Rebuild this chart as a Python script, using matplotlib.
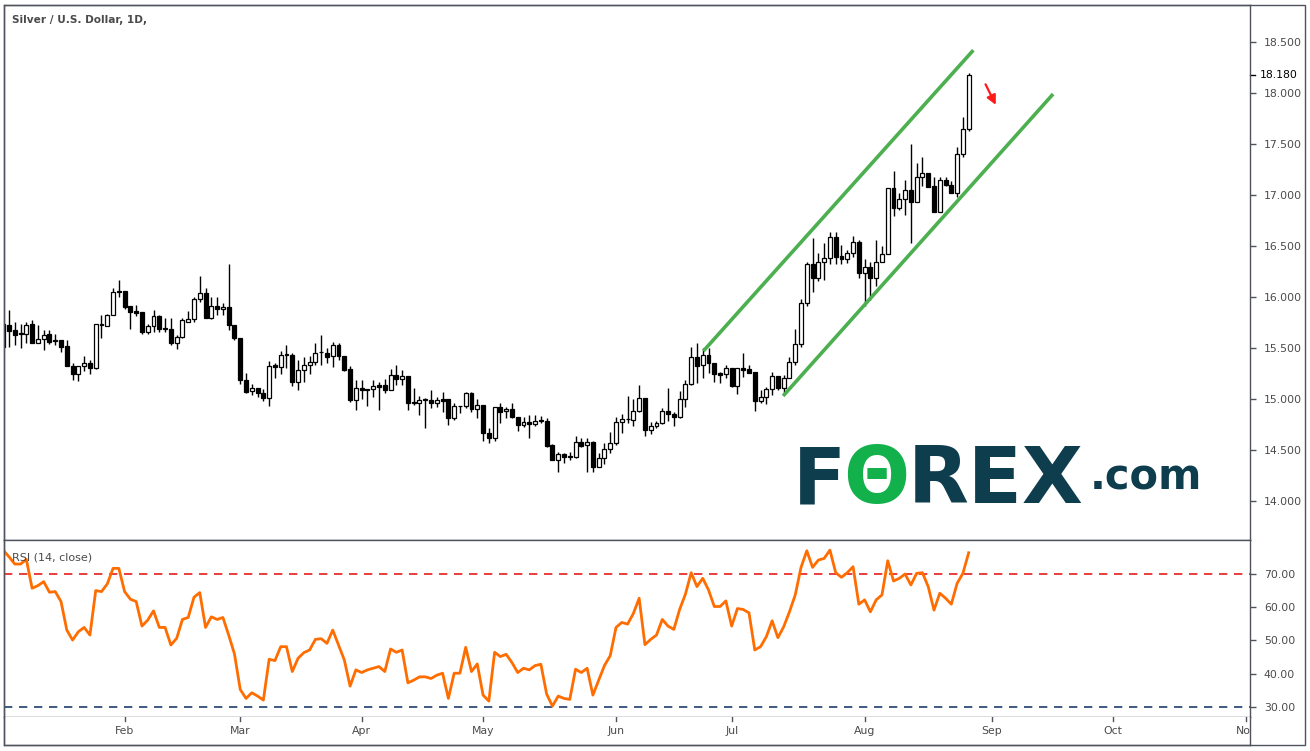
import numpy as np
import pandas as pd
import matplotlib
matplotlib.use("Agg")
import matplotlib.pyplot as plt
from matplotlib.patches import Rectangle
from matplotlib.lines import Line2D

# daily OHLC, XAG/USD, 3 Jan 2019 .. 27 Aug 2019
opens = [15.51, 15.73, 15.68, 15.64, 15.64, 15.74, 15.55, 15.59, 15.64, 15.58,
         15.58, 15.52, 15.32, 15.25, 15.32, 15.35, 15.30, 15.74, 15.72, 15.82,
         16.06, 16.06, 15.91, 15.86, 15.85, 15.66, 15.72, 15.81, 15.70, 15.69,
         15.55, 15.61, 15.76, 15.78, 15.98, 16.04, 15.79, 15.91, 15.88, 15.90,
         15.73, 15.60, 15.19, 15.08, 15.11, 15.06, 15.01, 15.33, 15.31, 15.43,
         15.43, 15.17, 15.28, 15.33, 15.36, 15.46, 15.45, 15.42, 15.53, 15.42,
         15.29, 14.99, 15.11, 15.10, 15.10, 15.135, 15.135, 15.09, 15.24, 15.20,
         15.23, 14.975, 14.965, 14.99, 14.99, 14.965, 15.00, 15.00, 14.817, 14.93,
         14.932, 15.063, 14.899, 14.942, 14.664, 14.615, 14.919, 14.88, 14.906, 14.827,
         14.742, 14.775, 14.752, 14.785, 14.785, 14.55, 14.40, 14.458, 14.442, 14.428,
         14.579, 14.546, 14.579, 14.337, 14.425, 14.507, 14.566, 14.772, 14.80, 14.794,
         14.882, 15.006, 14.696, 14.732, 14.761, 14.885, 14.852, 14.82, 14.996, 15.143,
         15.408, 15.333, 15.431, 15.349, 15.251, 15.241, 15.30, 15.13, 15.30, 15.29,
         15.261, 14.983, 15.022, 15.098, 15.225, 15.104, 15.202, 15.359, 15.536, 15.945,
         16.321, 16.19, 16.347, 16.38, 16.585, 16.403, 16.37, 16.435, 16.543, 16.233,
         16.291, 16.183, 16.347, 16.419, 17.066, 16.876, 16.958, 17.05, 16.935, 17.18,
         17.213, 17.089, 16.837, 17.148, 17.095, 17.023, 17.399, 17.644]
highs = [15.76, 15.87, 15.76, 15.74, 15.76, 15.77, 15.73, 15.68, 15.68, 15.64,
         15.58, 15.58, 15.35, 15.32, 15.42, 15.38, 15.74, 15.82, 15.83, 16.09,
         16.17, 16.06, 15.91, 15.92, 15.85, 15.74, 15.87, 15.82, 15.79, 15.79,
         15.63, 15.79, 15.86, 16.00, 16.21, 16.09, 16.00, 16.00, 15.94, 16.32,
         15.73, 15.60, 15.26, 15.15, 15.11, 15.10, 15.37, 15.35, 15.47, 15.53,
         15.45, 15.38, 15.41, 15.42, 15.55, 15.63, 15.50, 15.56, 15.55, 15.42,
         15.32, 15.19, 15.19, 15.10, 15.19, 15.17, 15.20, 15.29, 15.33, 15.285,
         15.23, 15.105, 15.03, 15.01, 15.09, 15.017, 15.07, 15.00, 14.958, 14.93,
         15.072, 15.072, 14.997, 14.942, 14.713, 14.919, 14.965, 14.919, 14.965, 14.827,
         14.827, 14.843, 14.843, 14.834, 14.811, 14.559, 14.484, 14.468, 14.484, 14.638,
         14.615, 14.615, 14.592, 14.468, 14.572, 14.68, 14.82, 14.853, 15.03, 14.999,
         15.137, 15.006, 14.777, 14.787, 14.908, 15.104, 14.875, 15.081, 15.186, 15.506,
         15.545, 15.496, 15.496, 15.356, 15.267, 15.333, 15.30, 15.30, 15.447, 15.333,
         15.261, 15.088, 15.12, 15.267, 15.225, 15.235, 15.415, 15.683, 15.977, 16.347,
         16.576, 16.429, 16.533, 16.634, 16.634, 16.51, 16.461, 16.598, 16.559, 16.37,
         16.347, 16.559, 16.50, 17.066, 17.236, 17.017, 17.148, 17.50, 17.317, 17.376,
         17.213, 17.18, 17.18, 17.18, 17.141, 17.468, 17.762, 18.20]
lows = [15.15, 15.51, 15.53, 15.50, 15.55, 15.55, 15.55, 15.48, 15.54, 15.53,
        15.46, 15.32, 15.19, 15.18, 15.27, 15.25, 15.29, 15.60, 15.72, 15.82,
        16.00, 15.88, 15.69, 15.81, 15.64, 15.64, 15.66, 15.66, 15.66, 15.53,
        15.49, 15.60, 15.76, 15.76, 15.95, 15.79, 15.78, 15.82, 15.82, 15.68,
        15.58, 15.15, 15.06, 15.04, 15.02, 14.98, 14.93, 15.21, 15.25, 15.30,
        15.13, 15.09, 15.17, 15.25, 15.33, 15.33, 15.35, 15.31, 15.38, 15.27,
        14.97, 14.89, 15.00, 14.93, 15.02, 14.89, 15.06, 15.09, 15.14, 15.14,
        14.89, 14.94, 14.84, 14.72, 14.91, 14.919, 14.876, 14.745, 14.795, 14.86,
        14.909, 14.876, 14.811, 14.592, 14.566, 14.592, 14.762, 14.811, 14.811, 14.69,
        14.729, 14.615, 14.736, 14.762, 14.527, 14.40, 14.288, 14.376, 14.40, 14.419,
        14.533, 14.288, 14.288, 14.33, 14.363, 14.474, 14.55, 14.664, 14.762, 14.738,
        14.875, 14.637, 14.653, 14.718, 14.751, 14.784, 14.738, 14.81, 14.918, 15.137,
        15.16, 15.202, 15.258, 15.17, 15.153, 15.202, 15.114, 15.045, 15.218, 15.251,
        14.885, 14.964, 14.95, 15.039, 15.088, 15.049, 15.202, 15.33, 15.513, 15.916,
        16.053, 16.161, 16.167, 16.321, 16.324, 16.324, 16.331, 16.396, 16.183, 15.916,
        15.971, 16.112, 16.347, 16.419, 16.798, 16.853, 16.804, 16.527, 16.935, 17.089,
        17.082, 16.837, 16.837, 17.089, 17.023, 16.978, 17.376, 17.631]
closes = [15.74, 15.67, 15.63, 15.64, 15.73, 15.55, 15.59, 15.63, 15.56, 15.57,
          15.51, 15.32, 15.25, 15.32, 15.35, 15.30, 15.74, 15.73, 15.82, 16.05,
          16.05, 15.90, 15.85, 15.84, 15.66, 15.72, 15.81, 15.69, 15.69, 15.55,
          15.61, 15.77, 15.78, 15.98, 16.04, 15.79, 15.91, 15.88, 15.90, 15.73,
          15.60, 15.19, 15.07, 15.11, 15.06, 15.01, 15.32, 15.31, 15.43, 15.44,
          15.17, 15.28, 15.33, 15.36, 15.45, 15.46, 15.41, 15.53, 15.42, 15.28,
          14.99, 15.11, 15.09, 15.09, 15.13, 15.12, 15.09, 15.24, 15.20, 15.23,
          14.96, 14.96, 14.99, 14.99, 14.965, 14.99, 14.984, 14.817, 14.932, 14.93,
          15.063, 14.899, 14.942, 14.664, 14.615, 14.919, 14.876, 14.906, 14.82, 14.742,
          14.775, 14.752, 14.785, 14.785, 14.54, 14.40, 14.458, 14.435, 14.428, 14.576,
          14.54, 14.579, 14.337, 14.425, 14.514, 14.566, 14.775, 14.804, 14.80, 14.882,
          15.006, 14.696, 14.732, 14.761, 14.885, 14.852, 14.82, 14.996, 15.143, 15.408,
          15.326, 15.431, 15.349, 15.241, 15.235, 15.30, 15.13, 15.30, 15.284, 15.258,
          14.983, 15.016, 15.098, 15.225, 15.104, 15.202, 15.359, 15.536, 15.945, 16.321,
          16.19, 16.347, 16.38, 16.585, 16.396, 16.37, 16.435, 16.543, 16.233, 16.291,
          16.183, 16.347, 16.419, 17.066, 16.876, 16.958, 17.05, 16.935, 17.18, 17.213,
          17.082, 16.837, 17.148, 17.095, 17.023, 17.399, 17.644, 18.18]

rsi = [77.2, 75.2, 73.0, 73.0, 74.4, 65.7, 66.5, 67.7, 64.5, 64.7,
       61.7, 53.1, 50.1, 52.6, 53.9, 51.6, 65.0, 64.7, 67.0, 71.7,
       71.7, 64.7, 62.4, 61.7, 54.3, 56.1, 58.9, 53.9, 53.9, 48.6,
       50.6, 56.3, 56.9, 63.0, 64.4, 53.9, 57.1, 56.3, 56.9, 51.6,
       45.9, 35.2, 32.5, 34.2, 33.2, 32.0, 44.3, 43.9, 48.1, 48.1,
       40.6, 44.6, 46.3, 47.1, 50.3, 50.5, 49.1, 53.1, 48.6, 44.1,
       36.2, 41.1, 40.3, 41.1, 41.6, 42.1, 40.6, 47.4, 46.4, 47.1,
       37.2, 38.0, 39.0, 39.0, 38.5, 39.5, 40.1, 32.5, 40.1, 40.1,
       47.9, 40.6, 42.9, 33.5, 31.7, 46.4, 45.1, 45.8, 43.3, 40.3,
       41.6, 41.1, 42.4, 42.8, 33.8, 30.2, 33.2, 32.5, 32.2, 41.3,
       40.3, 41.6, 33.5, 38.0, 42.4, 45.4, 53.9, 55.4, 54.9, 58.1,
       62.7, 48.7, 50.3, 51.6, 56.3, 54.3, 53.3, 59.3, 63.9, 70.4,
       66.2, 68.7, 65.2, 60.2, 60.2, 61.9, 54.3, 59.6, 59.3, 58.3,
       47.1, 48.1, 51.1, 55.9, 50.8, 54.1, 58.6, 63.7, 72.0, 77.0,
       72.0, 74.2, 74.7, 77.2, 70.4, 69.0, 70.4, 72.2, 60.9, 62.2,
       58.6, 62.2, 63.7, 74.0, 67.9, 68.7, 70.0, 66.7, 70.2, 70.4,
       66.2, 59.1, 64.2, 62.7, 60.9, 67.2, 70.2, 76.4]

# trading days (19 Apr is not on the chart), incl. the empty future part
days = pd.bdate_range("2019-01-03", "2019-11-30")
days = days[days != pd.Timestamp("2019-04-19")]

# drawn channel and arrow, as (bar index, price)
upper_line = [(121.1, 15.47), (167.8, 18.42)]
lower_line = [(134.9, 15.03), (181.6, 17.99)]
arrow_from = (169.7, 18.11)
arrow_to = (171.9, 17.86)

price_ticks = [14.0, 14.5, 15.0, 15.5, 16.0, 16.5, 17.0, 17.5, 18.0, 18.5]
rsi_ticks = [30, 40, 50, 60, 70]

W, H = 1310, 751
FRAME = "#50535e"
TXT = "#4a4a4a"
AXW = 1250 - 3.5


def box(x0, y0, x1, y1):
    # pixel box (top-left origin) -> figure rect
    return [x0 / W, 1 - y1 / H, (x1 - x0) / W, (y1 - y0) / H]


fig = plt.figure(figsize=(W / 100, H / 100), dpi=100)
ax = fig.add_axes(box(3.5, 5, 1250, 540))
rax = fig.add_axes(box(3.5, 540, 1250, 717))
tax = fig.add_axes(box(3.5, 717, 1250, 745))

n = len(closes)
idx = np.arange(n)
o = np.array(opens)
c = np.array(closes)
up = c >= o

ax.vlines(idx, lows, highs, color="black", lw=1.0, zorder=2)
body_lo = np.minimum(o, c)
body_h = np.maximum(np.abs(c - o), 0.006)
ax.bar(idx, body_h, bottom=body_lo, width=0.68,
       color=np.where(up, "white", "black"), edgecolor="black", lw=0.9, zorder=3)

for seg in (upper_line, lower_line):
    ax.plot([seg[0][0], seg[1][0]], [seg[0][1], seg[1][1]], color="#4caf50", lw=2.6,
            solid_capstyle="butt", zorder=4)
ax.annotate("", xy=arrow_to, xytext=arrow_from,
            arrowprops=dict(arrowstyle="-|>,head_length=0.55,head_width=0.28",
                            color="#ff1a1a", lw=1.6))

xlim = (0.05, 215.66)
for a in (ax, rax, tax):
    a.set_xlim(*xlim)
    a.set_xticks([])
    for s in a.spines.values():
        s.set_color(FRAME)
        s.set_linewidth(1.0)

ax.set_ylim(13.618, 18.863)
ax.yaxis.tick_right()
ax.set_yticks(price_ticks)
ax.set_yticklabels(["%.3f" % v for v in price_ticks])
ax.tick_params(axis="y", length=4, width=1, color=FRAME, pad=6, labelsize=7.8,
               labelcolor=TXT)
# last price marker on the scale
ytr = ax.get_yaxis_transform()
ax.add_line(Line2D([1.0, 1.0 + 5 / AXW], [closes[-1]] * 2, transform=ytr,
                   color="black", lw=1, clip_on=False))
ax.text(1.0 + 10 / AXW, closes[-1], "%.3f" % closes[-1], transform=ytr,
        fontsize=7.8, color="black", ha="left", va="center")

ax.text(8 / AXW, 1 - 15 / 535, "Silver / U.S. Dollar, 1D,", transform=ax.transAxes,
        fontsize=7.6, color=TXT, fontweight="bold", family="DejaVu Sans", va="center",
        ha="left")

# FOREX.com logo
logo_dark = "#0e3d4d"
logo_green = "#12b14b"
fig.text(793 / W, 1 - 503 / H, "F", fontsize=56, fontweight="heavy", color=logo_dark,
         family="DejaVu Sans", va="baseline", ha="left")
fig.text(843 / W, 1 - 503 / H, "\u0398", fontsize=56, fontweight="heavy", color=logo_green,
         family="DejaVu Sans", va="baseline", ha="left")
fig.text(908 / W, 1 - 503 / H, "REX", fontsize=57, fontweight="heavy", color=logo_dark,
         family="DejaVu Sans", va="baseline", ha="left")
fig.text(1090 / W, 1 - 489 / H, ".com", fontsize=30, fontweight="bold", color=logo_dark,
         family="DejaVu Sans", va="baseline", ha="left")

# RSI pane
rax.plot(idx, rsi, color="#ff6d00", lw=2.0, zorder=3)
rax.axhline(70, color="#e51c1c", lw=1.2, dashes=(5, 4))
rax.axhline(30, color="#1f3d6b", lw=1.2, dashes=(5, 4))
rax.set_ylim(26.9, 80.25)
rax.yaxis.tick_right()
rax.set_yticks(rsi_ticks)
rax.set_yticklabels(["%.2f" % v for v in rsi_ticks])
rax.tick_params(axis="y", length=4, width=1, color=FRAME, pad=6, labelsize=7.8,
                labelcolor=TXT)
rax.text(8 / AXW, 1 - 17 / 177, "RSI (14, close)", transform=rax.transAxes,
         fontsize=8, color=TXT, va="center", ha="left")

# time axis
month_first = [i for i in range(1, len(days)) if days[i].month != days[i - 1].month]
tax.set_ylim(0, 1)
tax.set_yticks([])
tax.spines["top"].set_visible(False)
for i in month_first:
    tax.add_line(Line2D([i, i], [1, 1 - 4 / 28], color=FRAME, lw=1))
    tax.text(i, 1 - 14 / 28, days[i].strftime("%b"), fontsize=7.8, color=TXT,
             ha="center", va="center", clip_on=True)

# outer frame incl. price scale column
fig.add_artist(Rectangle((3.5 / W, 1 - 745 / H), (1305 - 3.5) / W, 740 / H,
                         transform=fig.transFigure, fill=False, edgecolor=FRAME, lw=1.0))

fig.savefig("out.png", dpi=100, facecolor="white")
